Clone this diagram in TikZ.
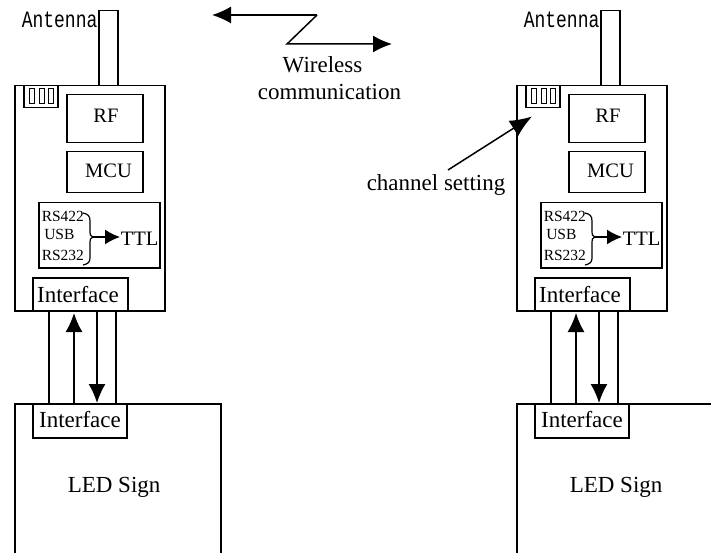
\documentclass[tikz,border=0pt]{standalone}
\usepackage{fontspec}
\usepackage{graphicx}
\setmainfont{Liberation Serif}
\newfontfamily\antfont{Liberation Mono}
\usetikzlibrary{arrows.meta}
\begin{document}
\begin{tikzpicture}[x=1pt,y=-1pt,
  line width=1.5pt,
  box/.style={draw, line width=1.5pt, inner sep=0pt, anchor=north west},
  big/.style={inner sep=0pt, font=\fontsize{23}{25}\selectfont},
  mid/.style={inner sep=0pt, font=\fontsize{20.5}{22}\selectfont},
  small/.style={inner sep=0pt, anchor=base west, font=\fontsize{15.5}{17}\selectfont},
  anttext/.style={inner sep=0pt, anchor=base west, font=\antfont\fontsize{18}{20}\selectfont},
  arr/.style={-{Latex[length=19pt,width=17pt]}, line width=1.5pt},
  brace/.style={line width=1.2pt}
]
\clip (0,0) rectangle (711,553);
\fill[white] (0,0) rectangle (711,553);

\foreach \dx/\s in {0/L,502/R}{
  \begin{scope}[xshift=\dx pt]
  % antenna
  \node[box, minimum width=19pt, minimum height=75pt] (ant\s) at (98,10) {};
  \node[anttext] (antt\s) at (21,28) {\scalebox{1}[1.3]{Antenna}};
  % board
  \node[box, minimum width=150pt, minimum height=225pt] (board\s) at (14,85) {};
  % channel switch
  \node[box, minimum width=34pt, minimum height=22pt] (sw\s) at (23,85) {};
  \node[box, line width=1.2pt, minimum width=5pt, minimum height=15pt] (swa\s) at (29,88) {};
  \node[box, line width=1.2pt, minimum width=5pt, minimum height=15pt] (swb\s) at (38.5,88) {};
  \node[box, line width=1.2pt, minimum width=5pt, minimum height=15pt] (swc\s) at (48,88) {};
  % RF and MCU
  \node[box, minimum width=76pt, minimum height=48pt] (rf\s) at (66,94) {};
  \node[mid, anchor=base] (rft\s) at (106,123) {RF};
  \node[box, minimum width=76pt, minimum height=41pt] (mcu\s) at (66,151) {};
  \node[mid, anchor=base] (mcut\s) at (108.5,178) {MCU};
  % converter
  \node[box, minimum width=121pt, minimum height=65pt] (conv\s) at (38,202) {};
  \node[small] (rsa\s) at (41,222) {RS422};
  \node[small] (usb\s) at (43.5,239) {USB};
  \node[small] (rsb\s) at (41,260) {RS232};
  \coordinate (bm\s) at (93,237);
  \draw[brace] (83,213) .. controls (88,214) and (90,216) .. (90,221) -- (90,232)
     .. controls (90,235) .. (bm\s) .. controls (90,239) .. (90,242) -- (90,258)
     .. controls (90,262) and (88,264) .. (83,265);
  \node[mid, anchor=base west] (ttl\s) at (120,245) {TTL};
  \draw[-{Latex[length=15pt,width=15pt]}, line width=1.5pt] (bm\s) -- (ttl\s.west |- bm\s);
  % top interface
  \node[box, fill=white, minimum width=95pt, minimum height=33pt] (ift\s) at (32,277) {};
  \node[big, anchor=base] (iftt\s) at (78,302) {Interface};
  % LED sign
  \node[box, minimum width=206pt, minimum height=190pt] (led\s) at (14,403) {};
  \node[box, minimum width=94pt, minimum height=34pt] (ifb\s) at (32,403) {};
  \node[big, anchor=base] (ifbt\s) at (80,427) {Interface};
  \node[big, anchor=base west] (ledt\s) at (67,492) {LED Sign};
  % cable
  \coordinate (ca\s) at (49,310);
  \coordinate (cb\s) at (116,310);
  \draw (ca\s) -- (ca\s |- led\s.north);
  \draw (cb\s) -- (cb\s |- led\s.north);
  \coordinate (up\s) at (74,403);
  \coordinate (dn\s) at (97,312);
  \draw[arr] (up\s) -- (74,313);
  \draw[arr] (dn\s) -- (dn\s |- up\s);
  \end{scope}
}

% wireless communication
\coordinate (wl) at (212,15);
\coordinate (wr) at (392,44);
\draw[arr] (317,15) -- (wl);
\draw[arr] (317,15) -- (287,44) -- (wr);
\node[big, anchor=base] (wt1) at (322.5,73) {Wireless};
\node[big, anchor=base] (wt2) at (329.5,100) {communication};

% channel setting
\node[big, anchor=base west] (chs) at (366,191) {channel setting};
\coordinate (chsa) at (448,170);
\draw[-{Latex[length=22pt,width=18pt]}, line width=1.5pt] (chsa) -- ([shift={(7,8)}]swR.south west);
\end{tikzpicture}
\end{document}
